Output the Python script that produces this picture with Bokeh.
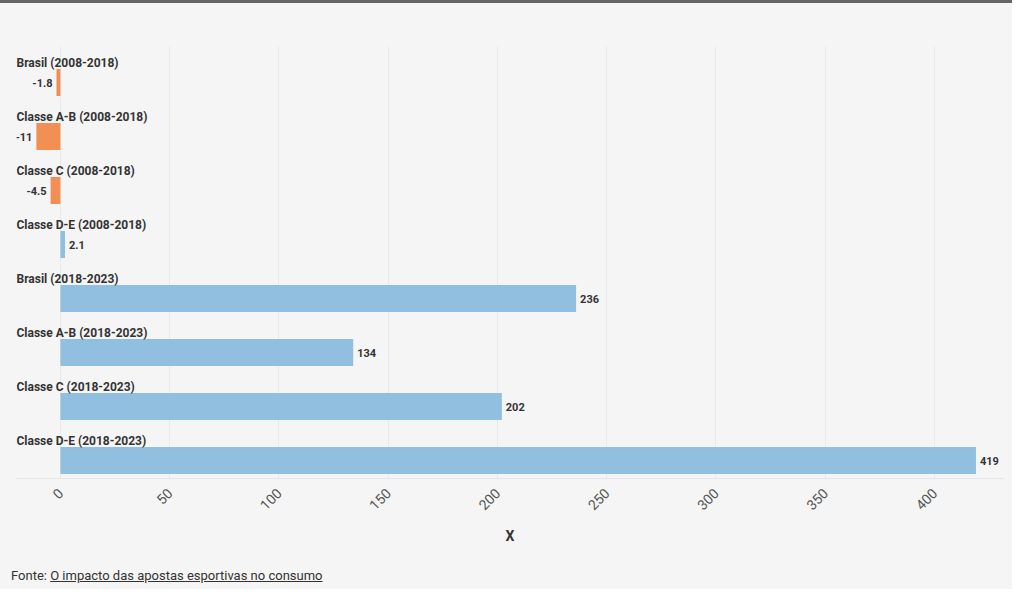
import math
from bokeh.plotting import figure
from bokeh.models import ColumnDataSource, Range1d, FactorRange, Div
from bokeh.transform import dodge
from bokeh.layouts import column
from bokeh.core.properties import value
from bokeh.embed import file_html
from bokeh.resources import INLINE

categories = [
    "Brasil (2008-2018)",
    "Classe A-B (2008-2018)",
    "Classe C (2008-2018)",
    "Classe D-E (2008-2018)",
    "Brasil (2018-2023)",
    "Classe A-B (2018-2023)",
    "Classe C (2018-2023)",
    "Classe D-E (2018-2023)",
]
values = [-1.8, -11, -4.5, 2.1, 236, 134, 202, 419]
value_labels = ["-1.8", "-11", "-4.5", "2.1", "236", "134", "202", "419"]
x_ticks = [0, 50, 100, 150, 200, 250, 300, 350, 400]

NEG = "#f28f55"
POS = "#91bfdf"
BG = "#f5f5f5"
FONT = "Roboto"

x_start, x_end = -20.1, 431.6

src = ColumnDataSource(dict(
    cat=categories,
    val=values,
    zero=[0] * len(values),
    color=[NEG if v < 0 else POS for v in values],
    txt=value_labels,
    align=["right" if v < 0 else "left" for v in values],
    xoff=[-4 if v < 0 else 4 for v in values],
    lx=[x_start] * len(values),
))

W = 1012

p = figure(
    width=W, height=559,
    y_range=FactorRange(factors=categories[::-1]),
    x_range=Range1d(x_start, x_end),
    output_backend="svg", toolbar_location=None,
    min_border_left=16, min_border_right=9, min_border_top=43, min_border_bottom=84,
)
p.background_fill_color = BG
p.border_fill_color = BG
p.outline_line_color = None

p.hbar(y=dodge("cat", -0.167, range=p.y_range), left="zero", right="val", height=0.5,
       fill_color="color", line_color=None, source=src)

p.text(x="lx", y=dodge("cat", 0.19, range=p.y_range), text="cat", source=src,
       text_font=value(FONT), text_font_style="bold", text_font_size="12px",
       text_color="#333333", text_align="left", text_baseline="middle")

p.text(x="val", y=dodge("cat", -0.167, range=p.y_range), text="txt", source=src,
       x_offset="xoff", text_align="align",
       text_font=value(FONT), text_font_style="bold", text_font_size="11px",
       text_color="#333333", text_baseline="middle")

p.yaxis.visible = False
p.ygrid.grid_line_color = None
p.xgrid.grid_line_color = "#e9e9e9"
p.xaxis.ticker = x_ticks
p.xaxis.major_label_orientation = math.pi / 4
p.xaxis.major_label_text_font = FONT
p.xaxis.major_label_text_font_size = "14px"
p.xaxis.major_label_text_color = "#555555"
p.xaxis.major_label_standoff = 6
p.xaxis.major_tick_line_color = None
p.xaxis.minor_tick_line_color = None
p.xaxis.axis_line_color = "#e6e6e6"
p.xaxis.axis_label = "X"
p.xaxis.axis_label_text_font = FONT
p.xaxis.axis_label_text_font_style = "bold"
p.xaxis.axis_label_text_font_size = "14px"
p.xaxis.axis_label_text_color = "#333333"
p.xaxis.axis_label_standoff = 10

topbar = Div(text="", width=W, height=3, margin=0, styles={"background-color": "#666666"})

footer = Div(
    text='Fonte: <span style="text-decoration: underline;">O impacto das apostas esportivas no consumo</span>',
    width=W, height=27, margin=0,
    styles={"background-color": BG, "font-family": "Roboto", "font-size": "13px",
            "color": "#333333", "padding-left": "11px", "line-height": "27px",
            "box-sizing": "border-box"},
)

layout = column(topbar, p, footer, spacing=0, styles={"background-color": BG})
open("out.html", "w").write(file_html(layout, INLINE))
